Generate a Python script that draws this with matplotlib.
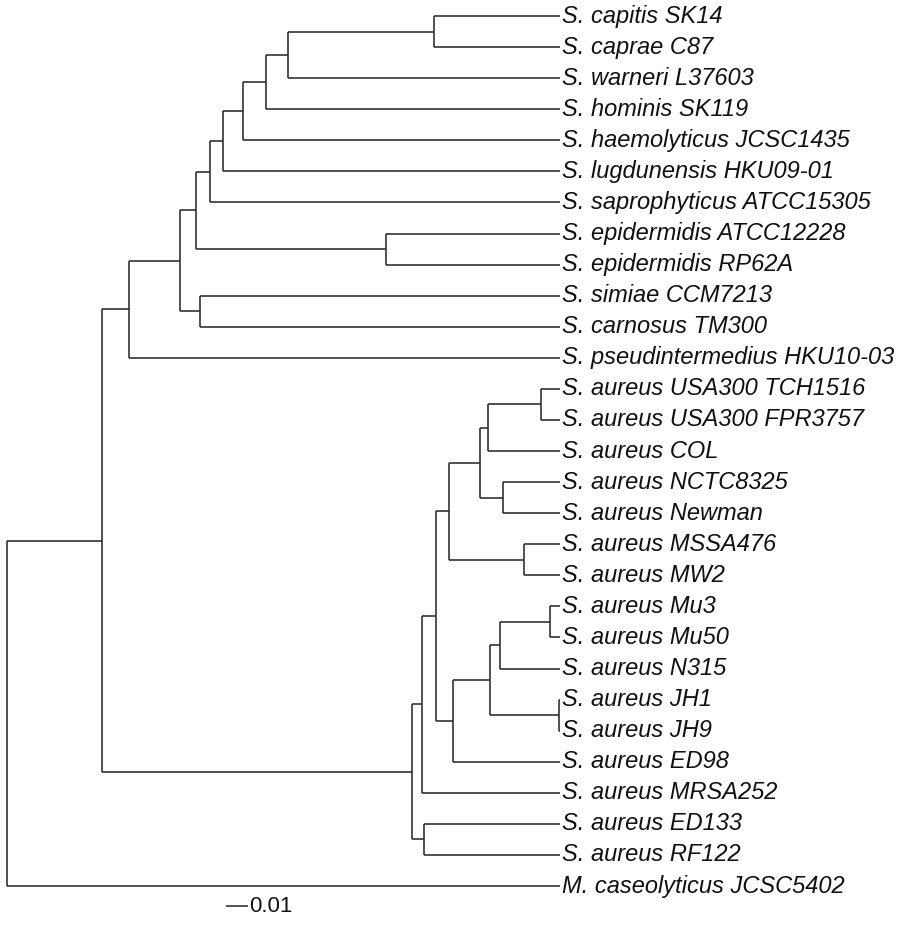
import matplotlib
matplotlib.use("Agg")
import matplotlib.pyplot as plt

# ---- data ----
tip_labels = [
    "S. capitis SK14", "S. caprae C87", "S. warneri L37603", "S. hominis SK119",
    "S. haemolyticus JCSC1435", "S. lugdunensis HKU09-01", "S. saprophyticus ATCC15305",
    "S. epidermidis ATCC12228", "S. epidermidis RP62A", "S. simiae CCM7213",
    "S. carnosus TM300", "S. pseudintermedius HKU10-03",
    "S. aureus USA300 TCH1516", "S. aureus USA300 FPR3757", "S. aureus COL",
    "S. aureus NCTC8325", "S. aureus Newman", "S. aureus MSSA476", "S. aureus MW2",
    "S. aureus Mu3", "S. aureus Mu50", "S. aureus N315", "S. aureus JH1", "S. aureus JH9",
    "S. aureus ED98", "S. aureus MRSA252", "S. aureus ED133", "S. aureus RF122",
    "M. caseolyticus JCSC5402",
]
tip_depth = 0.2514

# internal nodes: name -> depth from root
node_depth = {
    "root": 0.0, "staph": 0.0432, "cns": 0.0555, "n180": 0.0786, "n196": 0.0859,
    "n210": 0.0923, "n223": 0.0982, "n243": 0.1073, "n266": 0.1177, "n288": 0.1277,
    "capcap": 0.1941, "epi": 0.1723, "simcar": 0.0877,
    "aureus": 0.1841, "ed": 0.1895, "n422": 0.1886, "n436": 0.1950, "n449": 0.2009,
    "n480": 0.2150, "n488": 0.2186, "usa": 0.2427, "nctc": 0.2255, "mssa": 0.2350,
    "n453": 0.2027, "n490": 0.2195, "n500": 0.2241, "mu": 0.2468, "jh": 0.2509,
}
node_children = {
    "root": ["staph", "M. caseolyticus JCSC5402"],
    "staph": ["cns", "aureus"],
    "cns": ["n180", "S. pseudintermedius HKU10-03"],
    "n180": ["n196", "simcar"],
    "n196": ["n210", "epi"],
    "n210": ["n223", "S. saprophyticus ATCC15305"],
    "n223": ["n243", "S. lugdunensis HKU09-01"],
    "n243": ["n266", "S. haemolyticus JCSC1435"],
    "n266": ["n288", "S. hominis SK119"],
    "n288": ["capcap", "S. warneri L37603"],
    "capcap": ["S. capitis SK14", "S. caprae C87"],
    "epi": ["S. epidermidis ATCC12228", "S. epidermidis RP62A"],
    "simcar": ["S. simiae CCM7213", "S. carnosus TM300"],
    "aureus": ["n422", "ed"],
    "ed": ["S. aureus ED133", "S. aureus RF122"],
    "n422": ["n436", "S. aureus MRSA252"],
    "n436": ["n449", "n453"],
    "n449": ["n480", "mssa"],
    "n480": ["n488", "nctc"],
    "n488": ["usa", "S. aureus COL"],
    "usa": ["S. aureus USA300 TCH1516", "S. aureus USA300 FPR3757"],
    "nctc": ["S. aureus NCTC8325", "S. aureus Newman"],
    "mssa": ["S. aureus MSSA476", "S. aureus MW2"],
    "n453": ["n490", "S. aureus ED98"],
    "n490": ["n500", "jh"],
    "n500": ["mu", "S. aureus N315"],
    "mu": ["S. aureus Mu3", "S. aureus Mu50"],
    "jh": ["S. aureus JH1", "S. aureus JH9"],
}
scale_value = 0.01
scale_label = "0.01"

# ---- layout helpers ----
tip_y = {name: i for i, name in enumerate(tip_labels)}
ycache = {}

def get_y(name):
    if name in tip_y:
        return tip_y[name]
    if name not in ycache:
        ch = node_children[name]
        ycache[name] = (get_y(ch[0]) + get_y(ch[-1])) / 2.0
    return ycache[name]

def get_x(name):
    return tip_depth if name in tip_y else node_depth[name]

W, H = 897, 925
fig = plt.figure(figsize=(W / 100, H / 100), dpi=100)
ax = fig.add_axes([0, 0, 1, 1])
px_per_unit = 2200.0
x0_px = 7.0
ax.set_xlim(-x0_px / px_per_unit, (W - x0_px) / px_per_unit)
row_px = (886 - 16) / 28.0
ax.set_ylim((H - 16) / row_px, -16 / row_px)
ax.axis("off")

lc = "#2b2b2b"
lw = 1.15
for name, ch in node_children.items():
    x = get_x(name)
    ys = [get_y(c) for c in ch]
    ax.plot([x, x], [min(ys), max(ys)], color=lc, lw=lw, solid_capstyle="butt")
    for c in ch:
        ax.plot([x, get_x(c)], [get_y(c), get_y(c)], color=lc, lw=lw, solid_capstyle="butt")

gap = 2.0 / px_per_unit
for name in tip_labels:
    ax.text(tip_depth + gap, tip_y[name], name, ha="left", va="center",
            fontsize=17, style="italic", family="Liberation Sans", color="#111111")

# scale bar
sb_x = (226 - x0_px) / px_per_unit
sb_y = (906 - 16) / row_px
ax.plot([sb_x, sb_x + scale_value], [sb_y, sb_y], color=lc, lw=lw, solid_capstyle="butt")
ax.text(sb_x + scale_value + 1.0 / px_per_unit, sb_y, scale_label, ha="left", va="center",
        fontsize=16, family="Liberation Sans", color="#111111")

fig.savefig("out.png", dpi=100)
